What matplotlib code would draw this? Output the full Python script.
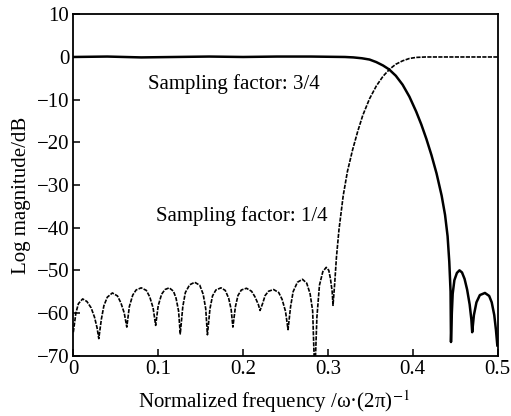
import numpy as np
import matplotlib.pyplot as plt

plt.rcParams['font.family'] = ['Liberation Serif', 'DejaVu Serif']
plt.rcParams['mathtext.fontset'] = 'stix'

# lowpass branch (solid)
low_f = [0.000, 0.040, 0.080, 0.120, 0.160, 0.200, 0.240, 0.280, 0.320,
         0.330, 0.340, 0.349, 0.357, 0.365, 0.372, 0.380, 0.388, 0.396, 0.404,
         0.410, 0.416, 0.422, 0.428, 0.434, 0.438, 0.441, 0.443, 0.4445, 0.445,
         0.446, 0.447, 0.449, 0.452, 0.455, 0.458, 0.461, 0.464, 0.467, 0.469,
         0.470, 0.472, 0.475, 0.479, 0.485, 0.490, 0.493, 0.496, 0.498, 0.4996]
low_db = [0.0, 0.1, -0.1, 0.0, 0.1, 0.0, 0.1, 0.1, 0.0,
          -0.1, -0.3, -0.6, -1.2, -2.0, -2.9, -4.4, -6.5, -9.3, -12.8,
          -15.8, -19.2, -23.0, -27.3, -32.5, -37.0, -42.0, -48.0, -55.0, -66.8,
          -60.0, -55.5, -52.3, -50.6, -50.0, -50.5, -52.0, -54.5, -58.0, -61.5,
          -64.5, -60.5, -57.5, -55.8, -55.3, -56.0, -57.5, -60.5, -64.0, -67.6]

# highpass branch (dotted)
high_f = [0.000, 0.003, 0.006, 0.011, 0.016, 0.021, 0.025, 0.028, 0.030,
          0.033, 0.036, 0.040, 0.046, 0.052, 0.056, 0.060, 0.063,
          0.066, 0.070, 0.074, 0.080, 0.086, 0.090, 0.094, 0.097,
          0.100, 0.104, 0.108, 0.113, 0.118, 0.121, 0.124, 0.126,
          0.129, 0.132, 0.137, 0.143, 0.149, 0.153, 0.156, 0.158,
          0.161, 0.164, 0.168, 0.174, 0.179, 0.183, 0.186, 0.188,
          0.191, 0.194, 0.198, 0.204, 0.210, 0.214, 0.218, 0.220,
          0.223, 0.226, 0.230, 0.236, 0.242, 0.246, 0.250, 0.253,
          0.256, 0.259, 0.264, 0.270, 0.275, 0.279, 0.282, 0.2845,
          0.287, 0.290, 0.294, 0.298, 0.301, 0.303, 0.305, 0.306,
          0.308, 0.310, 0.313, 0.318, 0.323, 0.329, 0.335, 0.341, 0.349,
          0.357, 0.365, 0.373, 0.380, 0.388, 0.396, 0.404, 0.415, 0.450, 0.500]
high_db = [-64.5, -60.0, -57.8, -56.7, -57.3, -58.8, -61.0, -63.5, -66.0,
           -61.5, -58.3, -56.3, -55.3, -56.0, -57.6, -60.0, -63.3,
           -58.5, -55.8, -54.6, -54.1, -54.7, -56.2, -58.8, -62.9,
           -58.3, -55.6, -54.5, -54.1, -54.9, -56.5, -59.5, -64.9,
           -58.5, -55.2, -53.4, -52.8, -53.5, -55.6, -59.0, -65.1,
           -59.0, -56.0, -54.6, -54.1, -54.7, -56.5, -59.2, -63.3,
           -58.5, -55.9, -54.6, -54.2, -54.9, -56.2, -58.0, -59.4,
           -57.8, -55.9, -54.9, -54.5, -55.2, -56.8, -59.6, -63.9,
           -58.5, -55.0, -52.8, -52.1, -53.0, -55.5, -59.5, -75.0,
           -61.0, -53.5, -50.3, -49.3, -50.0, -52.0, -55.0, -58.2,
           -53.0, -47.0, -40.5, -32.5, -26.8, -21.8, -17.5, -13.7, -9.8,
           -6.8, -4.5, -2.8, -1.7, -0.9, -0.35, -0.1, 0.0, 0.0, 0.0]

yticks = [10, 0, -10, -20, -30, -40, -50, -60, -70]
xticks = [0, 0.1, 0.2, 0.3, 0.4, 0.5]

fig = plt.figure(figsize=(5.11, 4.16), dpi=100)
ax = fig.add_axes([0.1435, 0.145, 0.8304, 0.8206])

ax.plot(low_f, low_db, color='black', linewidth=1.8, solid_joinstyle='round')
ax.plot(high_f, high_db, color='black', linewidth=1.2, linestyle=(0, (2.5, 0.8)))

ax.text(0.0876, -6.25, 'Sampling factor: 3/4', fontsize=15, ha='left', va='center')
ax.text(0.098, -37.2, 'Sampling factor: 1/4', fontsize=15, ha='left', va='center')

ax.set_xlim(0, 0.5)
ax.set_ylim(-70, 10)
ax.set_xticks(xticks)
ax.set_xticklabels(['0', '0.1', '0.2', '0.3', '0.4', '0.5'])
ax.set_yticks(yticks)
ax.set_yticklabels([str(v).replace('-', '\u2212') for v in yticks])
ax.tick_params(direction='in', length=5, width=1.1, labelsize=15, pad=3,
               top=False, right=False)
for s in ax.spines.values():
    s.set_linewidth(1.3)

ax.set_xlabel(r'Normalized frequency /ω·(2π)$^{-1}$', fontsize=15)
ax.xaxis.set_label_coords(0.473, -0.095)
ax.set_ylabel('Log magnitude/dB', fontsize=15)
ax.yaxis.set_label_coords(-0.1, 0.471)

fig.savefig('out.png', dpi=100)
